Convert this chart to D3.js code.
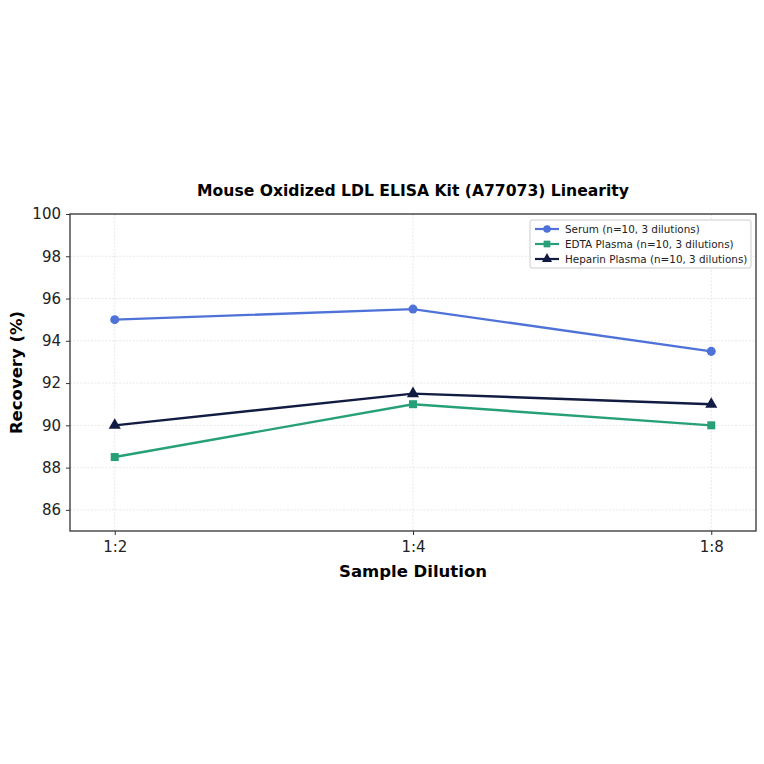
<!DOCTYPE html>
<html>
<head>
<meta charset="utf-8">
<script src="https://cdn.jsdelivr.net/npm/d3@7"></script>
<style>
  body { margin: 0; background: #fff; }
  svg, svg text { font-family: "DejaVu Sans", sans-serif; }
</style>
</head>
<body>
<svg id="chart" width="764" height="764"></svg>
<script>
const dilutions = ["1:2", "1:4", "1:8"];
const serum = [95.0, 95.5, 93.5];
const edta = [88.5, 91.0, 90.0];
const heparin = [90.0, 91.5, 91.0];
const yTicks = [86, 88, 90, 92, 94, 96, 98, 100];

const series = [
    { name: "Serum (n=10, 3 dilutions)", values: serum, color: "#4f72d9", shape: d3.symbolCircle },
    { name: "EDTA Plasma (n=10, 3 dilutions)", values: edta, color: "#27a079", shape: d3.symbolSquare },
    { name: "Heparin Plasma (n=10, 3 dilutions)", values: heparin, color: "#121c42", shape: d3.symbolTriangle }
];

const m = { left: 70, right: 8, top: 214, bottom: 233 };
const W = 764, H = 764;
const pw = W - m.left - m.right, ph = H - m.top - m.bottom;

const svg = d3.select("#chart");
const g = svg.append("g").attr("transform", `translate(${m.left},${m.top})`);

const x = d3.scaleLinear().domain([-0.15, dilutions.length - 1 + 0.15]).range([0, pw]);
const y = d3.scaleLinear().domain([85, 100]).range([ph, 0]);

// grid
g.append("g")
    .selectAll("line")
    .data(yTicks)
    .join("line")
    .attr("x1", 0).attr("x2", pw)
    .attr("y1", d => y(d)).attr("y2", d => y(d))
    .attr("stroke", "#e2e2e2").attr("stroke-width", 0.8).attr("stroke-dasharray", "2,1.5");
g.append("g")
    .selectAll("line")
    .data(dilutions)
    .join("line")
    .attr("x1", (d, i) => x(i)).attr("x2", (d, i) => x(i))
    .attr("y1", 0).attr("y2", ph)
    .attr("stroke", "#e2e2e2").attr("stroke-width", 0.8).attr("stroke-dasharray", "2,1.5");

// axes
const xAxis = d3.axisBottom(x)
    .tickValues(d3.range(dilutions.length))
    .tickFormat(i => dilutions[i])
    .tickSizeOuter(0).tickSize(4).tickPadding(6);
const yAxis = d3.axisLeft(y)
    .tickValues(yTicks)
    .tickSizeOuter(0).tickSize(4).tickPadding(5);

const gx = g.append("g").attr("transform", `translate(0,${ph})`).call(xAxis);
const gy = g.append("g").call(yAxis);
[gx, gy].forEach(a => {
    a.attr("font-family", "DejaVu Sans").attr("font-size", 15);
    a.select(".domain").remove();
    a.selectAll("text").attr("fill", "#222");
    a.selectAll("line").attr("stroke", "#333");
});

g.append("rect")
    .attr("width", pw).attr("height", ph)
    .attr("fill", "none").attr("stroke", "#333").attr("stroke-width", 1.3);

// lines
const line = d3.line().x((d, i) => x(i)).y(d => y(d));
series.forEach(s => {
    g.append("path")
        .datum(s.values)
        .attr("d", line)
        .attr("fill", "none")
        .attr("stroke", s.color)
        .attr("stroke-width", 2.4);
    g.selectAll(null)
        .data(s.values)
        .join("path")
        .attr("transform", (d, i) => `translate(${x(i)},${y(d)})`)
        .attr("d", d3.symbol().type(s.shape).size(64))
        .attr("fill", s.color);
});

// titles
svg.append("text")
    .attr("x", m.left + pw / 2).attr("y", 196)
    .attr("text-anchor", "middle")
    .attr("font-size", 15.6).attr("font-weight", "bold")
    .text("Mouse Oxidized LDL ELISA Kit (A77073) Linearity");
svg.append("text")
    .attr("x", m.left + pw / 2).attr("y", 577)
    .attr("text-anchor", "middle")
    .attr("font-size", 16.5).attr("font-weight", "bold")
    .text("Sample Dilution");
svg.append("text")
    .attr("transform", `translate(22,${m.top + ph / 2}) rotate(-90)`)
    .attr("text-anchor", "middle")
    .attr("font-size", 16.5).attr("font-weight", "bold")
    .text("Recovery (%)");

// legend
const lg = svg.append("g").attr("transform", "translate(530,220)");
lg.append("rect")
    .attr("width", 221).attr("height", 48).attr("rx", 2)
    .attr("fill", "#fff").attr("fill-opacity", 0.85)
    .attr("stroke", "#ccc");
series.forEach((s, i) => {
    const row = lg.append("g").attr("transform", `translate(5,${9 + i * 15})`);
    row.append("line").attr("x1", 0).attr("x2", 24)
        .attr("stroke", s.color).attr("stroke-width", 2.2);
    row.append("path").attr("transform", "translate(12,0)")
        .attr("d", d3.symbol().type(s.shape).size(45))
        .attr("fill", s.color);
    row.append("text").attr("x", 30).attr("y", 4)
        .attr("font-size", 10.4).attr("fill", "#222")
        .text(s.name);
});
</script>
</body>
</html>
